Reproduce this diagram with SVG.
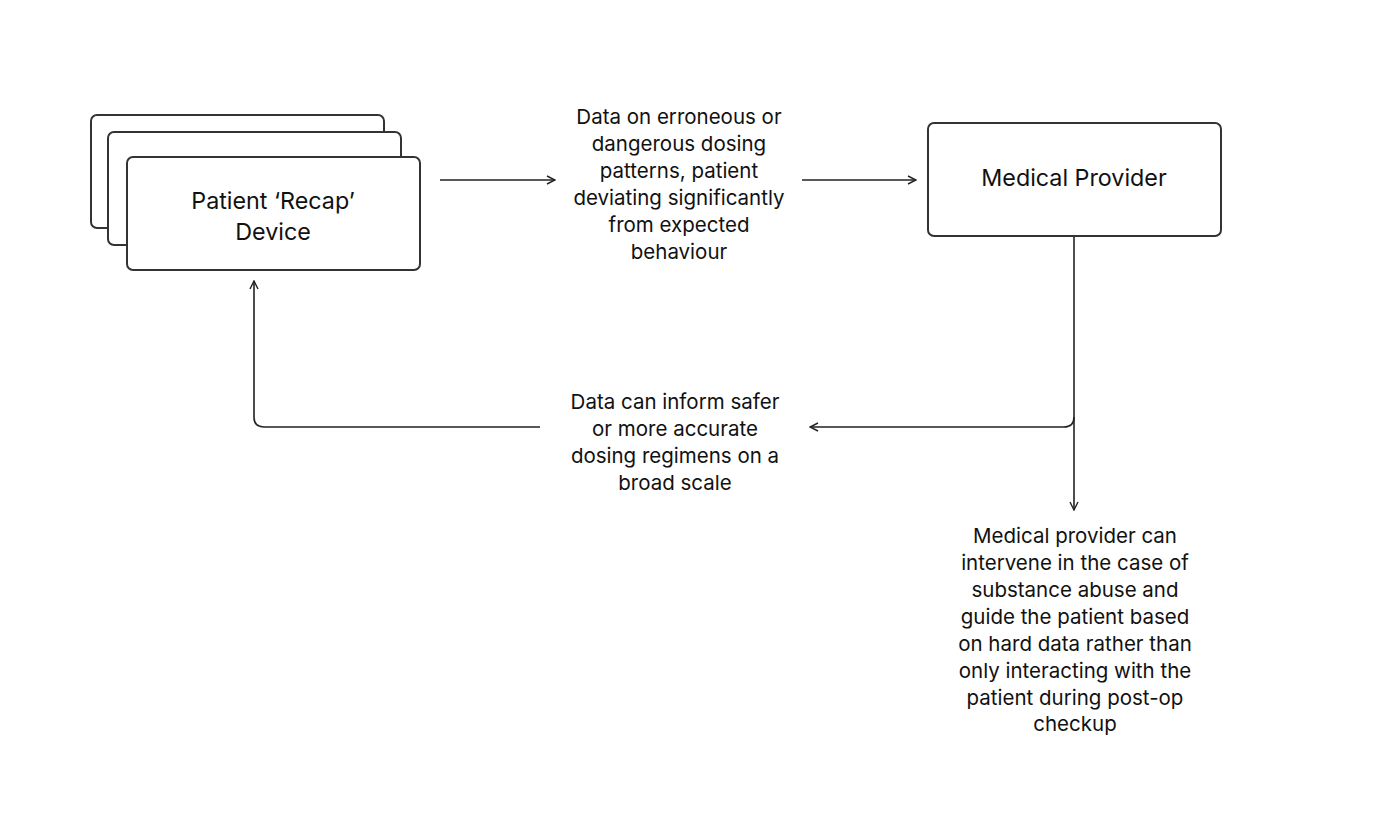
<svg xmlns="http://www.w3.org/2000/svg" width="1391" height="830" viewBox="0 0 1391 830">
<style>
.box{fill:#fff;stroke:#333;stroke-width:2}
.node{font-family:Inter,"Noto Sans",sans-serif;font-size:23.3px;fill:#111;text-anchor:middle}
.lbl{font-family:Inter,"Noto Sans",sans-serif;font-size:20.5px;fill:#111;text-anchor:middle}
.con{fill:none;stroke:#222;stroke-width:1.6}
</style>
<defs>
<marker id="ah" viewBox="0 0 10 10" refX="9" refY="5" markerWidth="10" markerHeight="10" markerUnits="userSpaceOnUse" orient="auto">
<path d="M1,1 L9,5 L1,9" fill="none" stroke="#222" stroke-width="1.4"/>
</marker>
</defs>
<rect width="1391" height="830" fill="#fff"/>
<g id="patient-device">
<rect class="box" x="91" y="115" width="293" height="113" rx="6"/>
<rect class="box" x="108" y="132" width="293" height="113" rx="6"/>
<rect class="box" x="127" y="157" width="293" height="113" rx="6"/>
<text class="node" x="273" y="209">Patient ‘Recap’</text>
<text class="node" x="273" y="240">Device</text>
</g>
<g id="medical-provider">
<rect class="box" x="928" y="123" width="293" height="113" rx="6"/>
<text class="node" x="1074" y="186">Medical Provider</text>
</g>
<g id="label-data-on">
<text class="lbl" x="679" y="124">Data on erroneous or</text>
<text class="lbl" x="679" y="151">dangerous dosing</text>
<text class="lbl" x="679" y="178">patterns, patient</text>
<text class="lbl" x="679" y="205">deviating significantly</text>
<text class="lbl" x="679" y="232">from expected</text>
<text class="lbl" x="679" y="259">behaviour</text>
</g>
<g id="label-data-can">
<text class="lbl" x="675" y="409">Data can inform safer</text>
<text class="lbl" x="675" y="436">or more accurate</text>
<text class="lbl" x="675" y="463">dosing regimens on a</text>
<text class="lbl" x="675" y="490">broad scale</text>
</g>
<g id="label-medical-provider-can">
<text class="lbl" x="1075" y="543">Medical provider can</text>
<text class="lbl" x="1075" y="570">intervene in the case of</text>
<text class="lbl" x="1075" y="597">substance abuse and</text>
<text class="lbl" x="1075" y="624">guide the patient based</text>
<text class="lbl" x="1075" y="651">on hard data rather than</text>
<text class="lbl" x="1075" y="678">only interacting with the</text>
<text class="lbl" x="1075" y="705">patient during post-op</text>
<text class="lbl" x="1075" y="731">checkup</text>
</g>
<g id="connectors">
<path class="con" d="M440,180 H555" marker-end="url(#ah)"/>
<path class="con" d="M802,180 H916" marker-end="url(#ah)"/>
<path class="con" d="M1074,237 V510" marker-end="url(#ah)"/>
<path class="con" d="M1074,417 Q1074,427 1064,427 H810" marker-end="url(#ah)"/>
<path class="con" d="M540,427 H264 Q254,427 254,417 V281" marker-end="url(#ah)"/>
</g>
</svg>
